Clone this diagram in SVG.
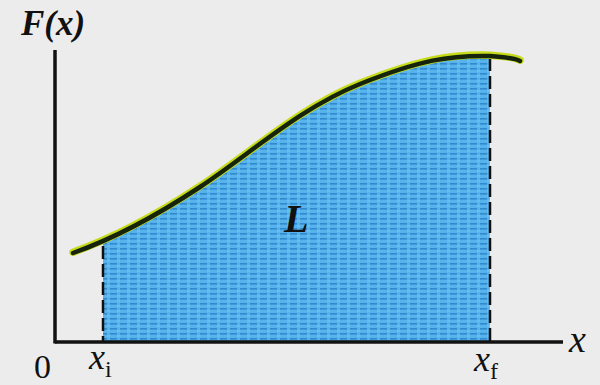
<svg xmlns="http://www.w3.org/2000/svg" width="600" height="385" viewBox="0 0 600 385">
  <style>
    .it { font-style: italic; }
    .up { font-style: normal; }
    .bd { font-weight: bold; }
    .axis { stroke: #111; stroke-width: 3.5; fill: none; }
    .dash { stroke: #111; stroke-width: 2.5; stroke-dasharray: 13 5; fill: none; }
  </style>
  <defs>
    <pattern id="tex" width="10" height="5" patternUnits="userSpaceOnUse">
      <rect width="10" height="5" fill="#56b3ec"/>
      <rect x="0" y="3" width="7" height="1.6" fill="#2a80c8" opacity="0.85"/>
      <rect x="7" y="0.5" width="3" height="1" fill="#7cc8f2"/>
    </pattern>
    <clipPath id="band">
      <rect x="103" y="0" width="387" height="342"/>
    </clipPath>
    <path id="curvePath" d="M73,253 C110,240 150,220 200,187 S300,108 360,84 S450,55 490,56 C505,57 514,58 520,61"/>
  </defs>

  <rect width="600" height="385" fill="#ececec"/>

  <g id="area-L" clip-path="url(#band)">
    <path d="M73,253 C110,240 150,220 200,187 S300,108 360,84 S450,55 490,56 C505,57 514,58 520,61 L520,342 L73,342 Z" fill="url(#tex)"/>
  </g>

  <g id="connectors">
    <line id="x-axis" class="axis" x1="55" y1="342" x2="563" y2="342"/>
    <line id="y-axis" class="axis" x1="55" y1="50" x2="55" y2="343.5"/>
    <line id="xi-line" class="dash" x1="103" y1="246" x2="103" y2="342"/>
    <line id="xf-line" class="dash" x1="490" y1="58" x2="490" y2="342"/>
  </g>

  <g id="curve-F">
    <use href="#curvePath" fill="none" stroke="#c6dc1a" stroke-width="7.5" stroke-linecap="round" transform="translate(0,-0.8)"/>
    <use href="#curvePath" fill="none" stroke="#16240c" stroke-width="4.5" stroke-linecap="round"/>
  </g>

  <g id="labels" fill="#111" font-family="'Liberation Serif', 'Times New Roman', serif">
    <text class="it bd" x="21" y="35" font-size="35">F(x)</text>
    <text class="it bd" x="284" y="232" font-size="40">L</text>
    <text x="34" y="378" font-size="34">0</text>
    <text class="it" x="89" y="369" font-size="36">x<tspan class="up" font-size="24" dy="8">i</tspan></text>
    <text class="it" x="474" y="371" font-size="36">x<tspan class="up" font-size="24" dy="8">f</tspan></text>
    <text class="it" x="569" y="352" font-size="38">x</text>
  </g>
</svg>
